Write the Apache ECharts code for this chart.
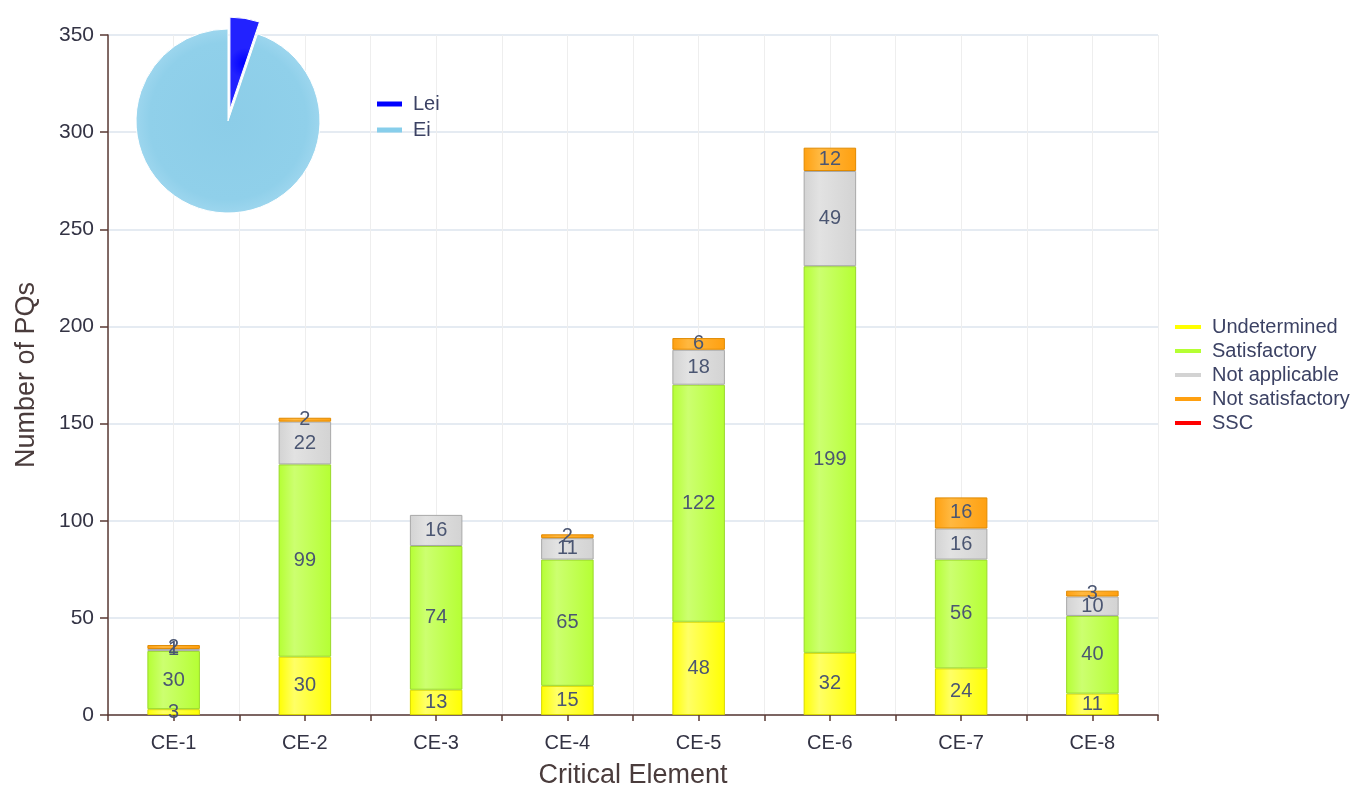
<!DOCTYPE html>
<html>
<head>
<meta charset="utf-8">
<script src="https://cdn.jsdelivr.net/npm/echarts@6/dist/echarts.min.js"></script>
<style>
  html, body { margin: 0; padding: 0; background: #fff; }
  #chart { width: 1356px; height: 786px; }
</style>
</head>
<body>
<div id="chart"></div>
<script>
// data
const categories = ['CE-1', 'CE-2', 'CE-3', 'CE-4', 'CE-5', 'CE-6', 'CE-7', 'CE-8']
const undetermined = [3, 30, 13, 15, 48, 32, 24, 11]
const satisfactory = [30, 99, 74, 65, 122, 199, 56, 40]
const notApplicable = [1, 22, 16, 11, 18, 49, 16, 10]
const notSatisfactory = [2, 2, 0, 2, 6, 12, 16, 3]
const ssc = [0, 0, 0, 0, 0, 0, 0, 0]
const pieNames = ['Lei', 'Ei']
const pieValues = [5.2, 94.8]

// half-category ticks / vertical grid lines
const halfTicks = []
categories.forEach(c => { halfTicks.push(c + 'a', c + 'b') })

const hGrad = (edge, mid) => ({
  type: 'linear', x: 0, y: 0, x2: 1, y2: 0,
  colorStops: [
    { offset: 0, color: edge },
    { offset: 0.3, color: mid },
    { offset: 1, color: edge }
  ]
})

const barDefs = [
  { name: 'Undetermined', data: undetermined, color: '#ffff00', mid: '#ffff66', border: '#d8d800' },
  { name: 'Satisfactory', data: satisfactory, color: '#b5ff33', mid: '#ccff70', border: '#9ad82a' },
  { name: 'Not applicable', data: notApplicable, color: '#d3d3d3', mid: '#e2e2e2', border: '#a8a8a8' },
  { name: 'Not satisfactory', data: notSatisfactory, color: '#ffa010', mid: '#ffb840', border: '#e08a00' },
  { name: 'SSC', data: ssc, color: '#ff0000', mid: '#ff4040', border: '#cc0000' }
]

const barSeries = barDefs.map(s => ({
  name: s.name,
  type: 'bar',
  stack: 'pq',
  xAxisIndex: 0,
  yAxisIndex: 0,
  barWidth: '40%',
  data: s.data.map(v => (v === 0 ? null : v)),
  itemStyle: { color: hGrad(s.color, s.mid), borderColor: s.border, borderWidth: 1 },
  label: {
    show: true,
    position: 'inside',
    color: '#4b5672',
    fontSize: 20,
    fontFamily: 'Liberation Sans'
  }
}))

const pieColors = ['#0000ff', '#87ceeb']

const chart = echarts.init(document.getElementById('chart'))
chart.setOption({
  animation: false,
  textStyle: { fontFamily: 'Liberation Sans' },
  grid: { left: 108, right: 198, top: 35, bottom: 71, outerBoundsMode: 'none', containLabel: false },
  legend: [
    {
      data: barDefs.map(s => ({ name: s.name, itemStyle: { color: s.color, borderWidth: 0 } })),
      orient: 'vertical',
      left: 1170,
      top: 312,
      icon: 'rect',
      itemWidth: 26,
      itemHeight: 4,
      itemGap: 4,
      textStyle: { fontSize: 20, color: '#3c4264', padding: [0, 0, 0, 6] }
    },
    {
      data: pieNames.map((n, i) => ({ name: n, itemStyle: { color: pieColors[i], borderWidth: 0 } })),
      orient: 'vertical',
      left: 372,
      top: 89,
      icon: 'rect',
      itemWidth: 25,
      itemHeight: 5,
      itemGap: 6,
      textStyle: { fontSize: 20, color: '#3c4264', padding: [0, 0, 0, 6] }
    }
  ],
  xAxis: [
    {
      type: 'category',
      position: 'bottom',
      data: categories,
      name: 'Critical Element',
      nameLocation: 'middle',
      nameGap: 47,
      nameTextStyle: { fontSize: 27, color: '#4a3c3c' },
      axisLine: { lineStyle: { color: '#5a3a34', width: 1.5 } },
      axisTick: { show: false },
      axisLabel: { fontSize: 20, color: '#333344', margin: 18 },
      splitLine: { show: false }
    },
    {
      type: 'category',
      position: 'bottom',
      data: halfTicks,
      axisLine: { show: false },
      axisTick: { show: true, length: 6, lineStyle: { color: '#5a3a34', width: 1.5 } },
      axisLabel: { show: false },
      splitLine: { show: true, lineStyle: { color: '#eeeeee' } }
    }
  ],
  yAxis: {
    type: 'value',
    min: 0,
    max: 350,
    interval: 50,
    name: 'Number of PQs',
    nameLocation: 'middle',
    nameGap: 68,
    nameTextStyle: { fontSize: 27, color: '#4a3c3c' },
    axisLine: { show: true, lineStyle: { color: '#5a3a34', width: 1.5 } },
    axisTick: { show: true, length: 8, lineStyle: { color: '#5a3a34', width: 1.5 } },
    axisLabel: { fontSize: 21, color: '#333344', margin: 14 },
    splitLine: { lineStyle: { color: '#dde4ee', width: 1.5 } }
  },
  series: [
    ...barSeries,
    {
      type: 'pie',
      name: 'share',
      center: [228, 121],
      radius: 92,
      startAngle: 90,
      clockwise: true,
      selectedMode: 'single',
      selectedOffset: 12,
      label: { show: false },
      labelLine: { show: false },
      z: 5,
      data: pieNames.map((n, i) => ({
        name: n,
        value: pieValues[i],
        selected: i === 0,
        itemStyle: {
          color: {
            type: 'radial', x: 0.5, y: 0.5, r: 0.5,
            colorStops: i === 0
              ? [{ offset: 0, color: '#0000ff' }, { offset: 1, color: '#2222ff' }]
              : [{ offset: 0, color: '#8ccde8' }, { offset: 0.85, color: '#90d0ea' }, { offset: 1, color: '#9dd6ee' }]
          },
          borderColor: '#ffffff',
          borderWidth: 1
        }
      }))
    }
  ]
})
</script>
</body>
</html>
